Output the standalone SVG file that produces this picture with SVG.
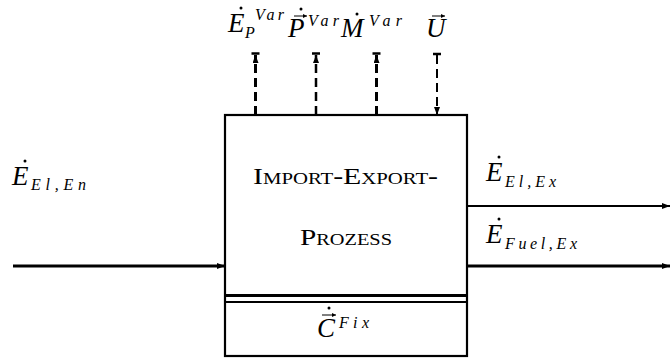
<svg xmlns="http://www.w3.org/2000/svg" width="670" height="359" viewBox="0 0 670 359">
  <style>
    .m { font-family: "Liberation Serif", "DejaVu Serif", serif; font-style: italic; fill: #000; }
    .big { font-size: 27px; }
    .sm { font-size: 16px; }
    .sc { font-family: "Liberation Serif", "Times New Roman", serif; font-variant: small-caps; font-size: 23px; fill: #000; }
    .box { fill: #fff; stroke: #000; stroke-width: 2.2; }
    .solid { fill: none; stroke: #000; }
    .dash { fill: none; stroke: #000; stroke-dasharray: 9 5; }
    .acc { fill: none; stroke: #000; stroke-width: 1; }
  </style>
  <defs>
    <marker id="ah" viewBox="0 0 8 6" refX="8" refY="3" markerWidth="8" markerHeight="6" markerUnits="userSpaceOnUse" orient="auto">
      <path d="M0,0 L8,3 L0,6 z" fill="#000"/>
    </marker>
    <marker id="vh" viewBox="0 0 4 4" refX="4" refY="2" markerWidth="4" markerHeight="4" markerUnits="userSpaceOnUse" orient="auto">
      <path d="M0,0 L4,2 L0,4 z" fill="#000"/>
    </marker>
  </defs>

  <g id="process">
    <rect class="box" x="225" y="115" width="242" height="241"/>
    <line x1="225" y1="295.5" x2="467" y2="295.5" stroke="#000" stroke-width="3"/>
    <line x1="225" y1="302" x2="467" y2="302" stroke="#000" stroke-width="2"/>
    <text class="sc" x="253" y="184" textLength="185" lengthAdjust="spacingAndGlyphs">Import-Export-</text>
    <text class="sc" x="300" y="245" textLength="92" lengthAdjust="spacingAndGlyphs">Prozess</text>
    <g id="cfix">
      <text class="m big" x="317" y="337">C</text>
      <path class="acc" d="M322,315 L336,315" marker-end="url(#vh)"/>
      <circle cx="329" cy="308" r="1.5"/>
      <text class="m sm" x="339" y="328" textLength="30" lengthAdjust="spacing">Fix</text>
    </g>
  </g>

  <g id="connectors">
    <path class="solid" stroke-width="3" d="M13,266 L225,266" marker-end="url(#ah)"/>
    <path class="solid" stroke-width="2" d="M467,206 L670,206" marker-end="url(#ah)"/>
    <path class="solid" stroke-width="3" d="M467,266 L670,266" marker-end="url(#ah)"/>
    <path class="dash" stroke-width="3" d="M255.5,115 L255.5,55" marker-end="url(#ah)"/>
    <path class="dash" stroke-width="2.5" d="M316,115 L316,55" marker-end="url(#ah)"/>
    <path class="dash" stroke-width="3" d="M376.5,115 L376.5,55" marker-end="url(#ah)"/>
    <path class="dash" stroke-width="2" d="M437,55 L437,115" marker-end="url(#ah)"/>
    <line x1="251.5" y1="53.5" x2="259.5" y2="53.5" stroke="#000" stroke-width="2.5"/>
    <line x1="312" y1="53.5" x2="320" y2="53.5" stroke="#000" stroke-width="2.5"/>
    <line x1="372.5" y1="53.5" x2="380.5" y2="53.5" stroke="#000" stroke-width="2.5"/>
    <line x1="433" y1="54" x2="441" y2="54" stroke="#000" stroke-width="2.5"/>
  </g>

  <g id="label-ep">
    <text class="m big" x="228" y="32">E</text>
    <circle cx="241" cy="8" r="1.5"/>
    <text class="m sm" x="245" y="38">P</text>
    <text class="m sm" x="255" y="20" textLength="29" lengthAdjust="spacing">Var</text>
  </g>
  <g id="label-p">
    <text class="m big" x="288" y="37">P</text>
    <path class="acc" d="M294,16 L307,16" marker-end="url(#vh)"/>
    <circle cx="301" cy="9" r="1.5"/>
    <text class="m sm" x="308" y="26" textLength="31" lengthAdjust="spacing">Var</text>
  </g>
  <g id="label-m">
    <text class="m big" x="341" y="37">M</text>
    <circle cx="357" cy="14" r="1.5"/>
    <text class="m sm" x="369" y="26" textLength="33" lengthAdjust="spacing">Var</text>
  </g>
  <g id="label-u">
    <text class="m big" x="426" y="37">U</text>
    <path class="acc" d="M432,16 L445,16" marker-end="url(#vh)"/>
  </g>
  <g id="label-elen">
    <text class="m big" x="12" y="185">E</text>
    <circle cx="25" cy="161" r="1.5"/>
    <text class="m sm" x="31" y="190" textLength="55" lengthAdjust="spacing">El,En</text>
  </g>
  <g id="label-elex">
    <text class="m big" x="486" y="181">E</text>
    <circle cx="499" cy="157" r="1.5"/>
    <text class="m sm" x="505" y="187" textLength="51" lengthAdjust="spacing">El,Ex</text>
  </g>
  <g id="label-fuelex">
    <text class="m big" x="486" y="243">E</text>
    <circle cx="499" cy="219" r="1.5"/>
    <text class="m sm" x="505" y="249" textLength="72" lengthAdjust="spacing">Fuel,Ex</text>
  </g>
</svg>
